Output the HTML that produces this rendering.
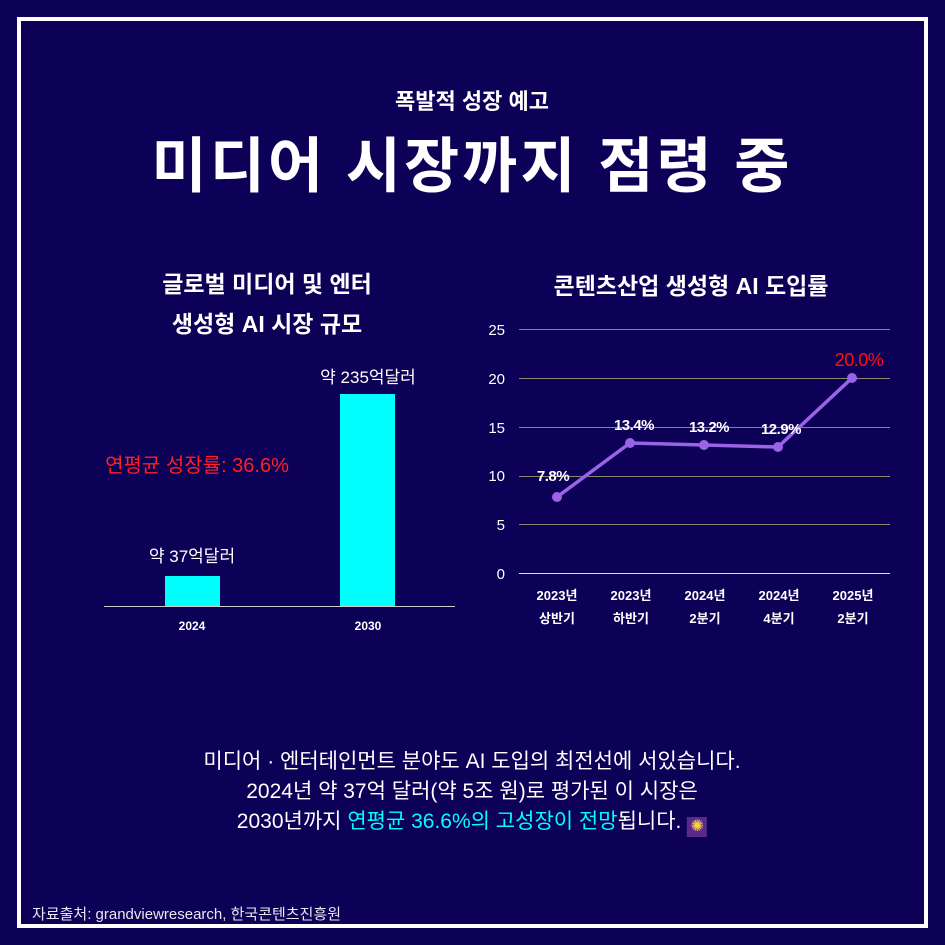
<!DOCTYPE html>
<html><head><meta charset="utf-8"><style>
html,body{margin:0;padding:0}
body{width:945px;height:945px;background:#0c0057;position:relative;overflow:hidden;font-family:"Liberation Sans","Noto Sans CJK KR",sans-serif;color:#fff}
.frame{position:absolute;left:17px;top:17px;width:903px;height:903px;border:4px solid #fff}
.t{position:absolute;white-space:nowrap}
.c{transform:translateX(-50%)}
</style></head><body>
<div class="frame"></div>
<div class="t c" style="left:472px;top:84px;font-size:22px;font-weight:bold">폭발적 성장 예고</div>
<div class="t c" style="left:472px;top:118px;font-size:60px;font-weight:bold;letter-spacing:3px">미디어 시장까지 점령 중</div>
<div class="t c" style="left:267px;top:265px;font-size:23px;font-weight:bold">글로벌 미디어 및 엔터</div>
<div class="t c" style="left:267px;top:305px;font-size:23px;font-weight:bold">생성형 AI 시장 규모</div>
<div class="t c" style="left:691px;top:267px;font-size:23px;font-weight:bold">콘텐츠산업 생성형 AI 도입률</div>
<svg width="945" height="945" style="position:absolute;left:0;top:0" font-family="Liberation Sans, Noto Sans CJK KR, sans-serif">
<line x1="104" y1="606.5" x2="455" y2="606.5" stroke="#ccc" stroke-width="1"/>
<rect x="165" y="576" width="55" height="30" fill="#00ffff"/>
<rect x="340" y="394" width="55" height="212" fill="#00ffff"/>
<text x="192" y="562" fill="#fff" font-size="17" text-anchor="middle">약 37억달러</text>
<text x="368" y="383" fill="#fff" font-size="17" text-anchor="middle">약 235억달러</text>
<text x="197" y="472" fill="#ff2020" font-size="20" text-anchor="middle">연평균 성장률: 36.6%</text>
<text x="192" y="630" fill="#fff" font-size="12" font-weight="bold" text-anchor="middle">2024</text>
<text x="368" y="630" fill="#fff" font-size="12" font-weight="bold" text-anchor="middle">2030</text>
<g stroke="#8a8a70" stroke-width="1">
<line x1="519" y1="329.5" x2="890" y2="329.5"/><line x1="519" y1="378.5" x2="890" y2="378.5"/>
<line x1="519" y1="427.5" x2="890" y2="427.5"/><line x1="519" y1="476.5" x2="890" y2="476.5"/>
<line x1="519" y1="524.5" x2="890" y2="524.5"/></g>
<line x1="519" y1="573.5" x2="890" y2="573.5" stroke="#ddd"/>
<g fill="#fff" font-size="15" text-anchor="end">
<text x="505" y="335">25</text><text x="505" y="384">20</text><text x="505" y="433">15</text>
<text x="505" y="481">10</text><text x="505" y="530">5</text><text x="505" y="579">0</text></g>
<polyline points="557,497 630,443 704,445 778,447 852,378" fill="none" stroke="#9b63e6" stroke-width="3.5"/>
<g fill="#9b63e6"><circle cx="557" cy="497" r="5"/><circle cx="630" cy="443" r="5"/><circle cx="704" cy="445" r="5"/><circle cx="778" cy="447" r="5"/><circle cx="852" cy="378" r="5"/></g>
<g fill="#fff" font-size="15" font-weight="bold" text-anchor="middle" letter-spacing="-0.5">
<text x="553" y="481">7.8%</text><text x="634" y="430">13.4%</text><text x="709" y="432">13.2%</text><text x="781" y="434">12.9%</text></g>
<text x="859" y="366" fill="#ff1010" font-size="18" text-anchor="middle" letter-spacing="-0.5">20.0%</text>
<g fill="#fff" font-size="13" font-weight="bold" text-anchor="middle">
<text x="557" y="600">2023년</text><text x="557" y="623">상반기</text>
<text x="631" y="600">2023년</text><text x="631" y="623">하반기</text>
<text x="705" y="600">2024년</text><text x="705" y="623">2분기</text>
<text x="779" y="600">2024년</text><text x="779" y="623">4분기</text>
<text x="853" y="600">2025년</text><text x="853" y="623">2분기</text></g>
</svg>
<div class="t c" style="left:472px;top:745px;font-size:21px">미디어 · 엔터테인먼트 분야도 AI 도입의 최전선에 서있습니다.</div>
<div class="t c" style="left:472px;top:775px;font-size:21px">2024년 약 37억 달러(약 5조 원)로 평가된 이 시장은</div>
<div class="t c" style="left:472px;top:805px;font-size:21px">2030년까지 <span style="color:#00ffff">연평균 36.6%의 고성장이 전망</span>됩니다. <span style="display:inline-block;width:20px;height:20px;background:#5a2a8a;vertical-align:-3px;color:#ffd040;font-size:16px;text-align:center;line-height:20px">✺</span></div>
<div class="t" style="left:32px;top:903px;font-size:15px;color:#e8e8f0">자료출처: grandviewresearch, 한국콘텐츠진흥원</div>
</body></html>
